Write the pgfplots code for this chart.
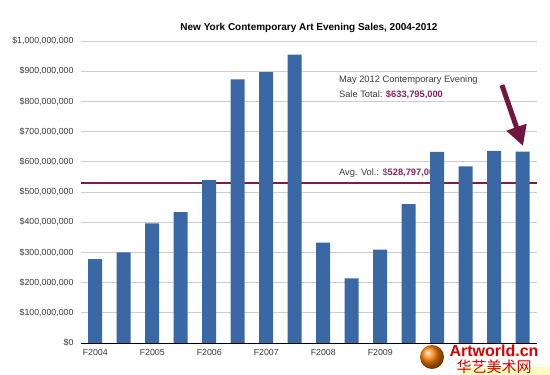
\documentclass[border=0pt]{standalone}
\usepackage{pgfplots}
\pgfplotsset{compat=1.18}
\usepackage{fontspec}
\setmainfont{Liberation Sans}
\newfontfamily\cjk{Noto Sans CJK SC}
\usetikzlibrary{arrows.meta}
\definecolor{barblue}{HTML}{3A68A4}
\definecolor{avgcol}{HTML}{7A1C4C}
\definecolor{arrcol}{HTML}{73163F}
\definecolor{amt}{HTML}{8E1F5E}
\definecolor{txt}{HTML}{3A3A3A}
\definecolor{gridc}{HTML}{CDCDCD}
\begin{document}
\begin{tikzpicture}[x=1pt,y=1pt]
\begin{axis}[
  scale only axis, width=456pt, height=302pt,
  xmin=-0.5, xmax=15.5, ymin=0, ymax=1000,
  axis x line=bottom, axis y line=left,
  y axis line style={draw=none},
  x axis line style={black, line width=0.8pt, -},
  major tick length=0pt,
  ymajorgrids, grid style={gridc, line width=0.8pt},
  ytick={0,100,...,1000},
  yticklabels={\$0,{\$100,000,000},{\$200,000,000},{\$300,000,000},{\$400,000,000},{\$500,000,000},{\$600,000,000},{\$700,000,000},{\$800,000,000},{\$900,000,000},{\$1,000,000,000}},
  xtick={0,2,...,10},
  xticklabels={F2004,F2005,F2006,F2007,F2008,F2009},
  tick label style={font=\fontsize{8.8}{10}\selectfont, text=txt},
  yticklabel style={xshift=-4pt},
  xticklabel style={yshift=-2.5pt},
  title={New York Contemporary Art Evening Sales, 2004-2012},
  title style={font=\fontsize{10}{12}\selectfont\bfseries, at={(0.5,1)}, anchor=south, yshift=-1pt},
  clip=false,
]
\addplot[avgcol, line width=1.8pt] coordinates {(-0.5,528.797) (15.5,528.797)};
\node[anchor=west, font=\fontsize{9.3}{11}\selectfont, text=txt, inner sep=0pt] at (axis cs:8.55,563) {Avg. Vol.: \$\textcolor{amt}{\bfseries 528,797,000}};
\addplot[ybar, bar width=14pt, fill=barblue, draw=none] coordinates {
(0,278) (1,300) (2,396) (3,433) (4,539) (5,873) (6,897) (7,955)
(8,332) (9,214) (10,309) (11,460) (12,633) (13,585) (14,636) (15,633.795)};
\node[anchor=west, font=\fontsize{9.3}{11}\selectfont, text=txt, inner sep=0pt] at (axis cs:8.55,871) {May 2012 Contemporary Evening};
\node[anchor=west, font=\fontsize{9.3}{11}\selectfont, text=txt, inner sep=0pt] at (axis cs:8.55,821) {Sale Total: \textcolor{amt}{\bfseries\$633,795,000}};
\draw[arrcol, line width=5pt, -{Triangle[width=20pt,length=20pt]}] (axis cs:14.27,854) -- (axis cs:15.01,652);
\end{axis}
\fill[white] (334pt,-3pt) rectangle (469pt,-32pt);
\fill[yellow!25!white] (380pt,-24pt) rectangle (469pt,-32pt);
\shade[ball color=orange] (351pt,-14pt) circle (12pt);
\node[font=\fontsize{16}{18}\selectfont\bfseries, text=red!85!black, inner sep=0pt] at (413pt,-8pt) {Artworld.cn};
\node[font=\cjk\fontsize{15}{17}\selectfont, text=red!85!black, inner sep=0pt] at (413pt,-24pt) {华艺美术网};
\path[use as bounding box] (-81pt,-32pt) rectangle (469pt,343pt);
\end{tikzpicture}
\end{document}
